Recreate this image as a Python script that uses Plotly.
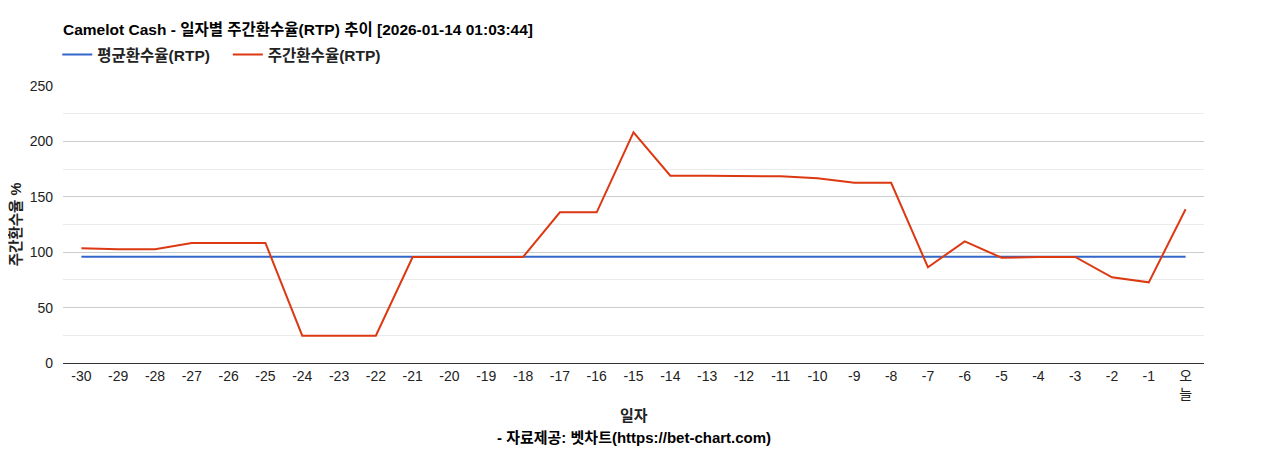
import plotly.graph_objects as go

# Data
days = ["-30", "-29", "-28", "-27", "-26", "-25", "-24", "-23", "-22", "-21",
        "-20", "-19", "-18", "-17", "-16", "-15", "-14", "-13", "-12", "-11",
        "-10", "-9", "-8", "-7", "-6", "-5", "-4", "-3", "-2", "-1", "오<br>늘"]
weekly_rtp = [103.5, 102.6, 102.6, 108.3, 108.3, 108.3, 24.6, 24.6, 24.6, 95.7,
              95.7, 95.7, 95.7, 136.0, 136.0, 208.2, 169.0, 169.0, 168.5, 168.5,
              166.7, 162.7, 162.7, 86.4, 109.8, 95.0, 95.7, 95.7, 77.3, 72.8, 138.7]
avg_rtp = [95.8] * len(days)

FONT = "Arial, 'Liberation Sans', 'Noto Sans CJK KR', sans-serif"

# page body has an 8px margin, so the figure is a bit smaller than the window
W, H = 1260, 442
PLOT_H = 277

fig = go.Figure()
fig.add_trace(go.Scatter(x=days, y=avg_rtp, mode="lines", name="<b>평균환수율(RTP)</b>   ",
                         line=dict(color="#3366cc", width=2)))
fig.add_trace(go.Scatter(x=days, y=weekly_rtp, mode="lines", name="<b>주간환수율(RTP)</b>",
                         line=dict(color="#dc3912", width=2)))

fig.update_layout(
    width=W,
    height=H,
    margin=dict(l=55, r=64, t=78, b=87),
    paper_bgcolor="white",
    plot_bgcolor="white",
    font=dict(family=FONT, size=14, color="#222"),
    title=dict(
        text="<b>Camelot Cash - 일자별 주간환수율(RTP) 추이 [2026-01-14 01:03:44]</b>",
        x=55 / W, xanchor="left", y=1 - 22 / H, yanchor="middle",
        font=dict(size=15.5, color="#000"),
    ),
    legend=dict(
        orientation="h", x=-0.005, xanchor="left", y=1 + 31 / PLOT_H, yanchor="middle",
        font=dict(size=15.5, color="#222"), itemwidth=30, tracegroupgap=0,
        bgcolor="rgba(0,0,0,0)",
    ),
    showlegend=True,
    xaxis=dict(
        type="category",
        range=[-0.5, len(days) - 0.5],
        showgrid=False,
        showline=True, linecolor="#333", linewidth=1,
        ticks="", tickangle=0,
        tickfont=dict(size=14, color="#222"),
        automargin=False,
        fixedrange=True,
    ),
    yaxis=dict(
        range=[0, 250],
        dtick=50,
        showgrid=True, gridcolor="#cccccc", gridwidth=1,
        minor=dict(dtick=25, showgrid=True, gridcolor="#ebebeb", gridwidth=1),
        zeroline=True, zerolinecolor="#333", zerolinewidth=1,
        tickfont=dict(size=14, color="#222"),
        ticklabelstandoff=9,
        automargin=False,
        title=dict(text="<b>주간환수율 %</b>", font=dict(size=14.5, color="#222"), standoff=4),
    ),
    annotations=[
        dict(text="<b>일자</b>", xref="paper", yref="paper", x=0.5, y=-52 / PLOT_H,
             xanchor="center", yanchor="middle", showarrow=False,
             font=dict(size=15, color="#222")),
        dict(text="<b>- 자료제공: 벳차트(https://bet-chart.com)</b>", xref="paper", yref="paper",
             x=0.5, y=-74 / PLOT_H, xanchor="center", yanchor="middle", showarrow=False,
             font=dict(size=15, color="#000")),
    ],
)

fig.write_html("out.html")
